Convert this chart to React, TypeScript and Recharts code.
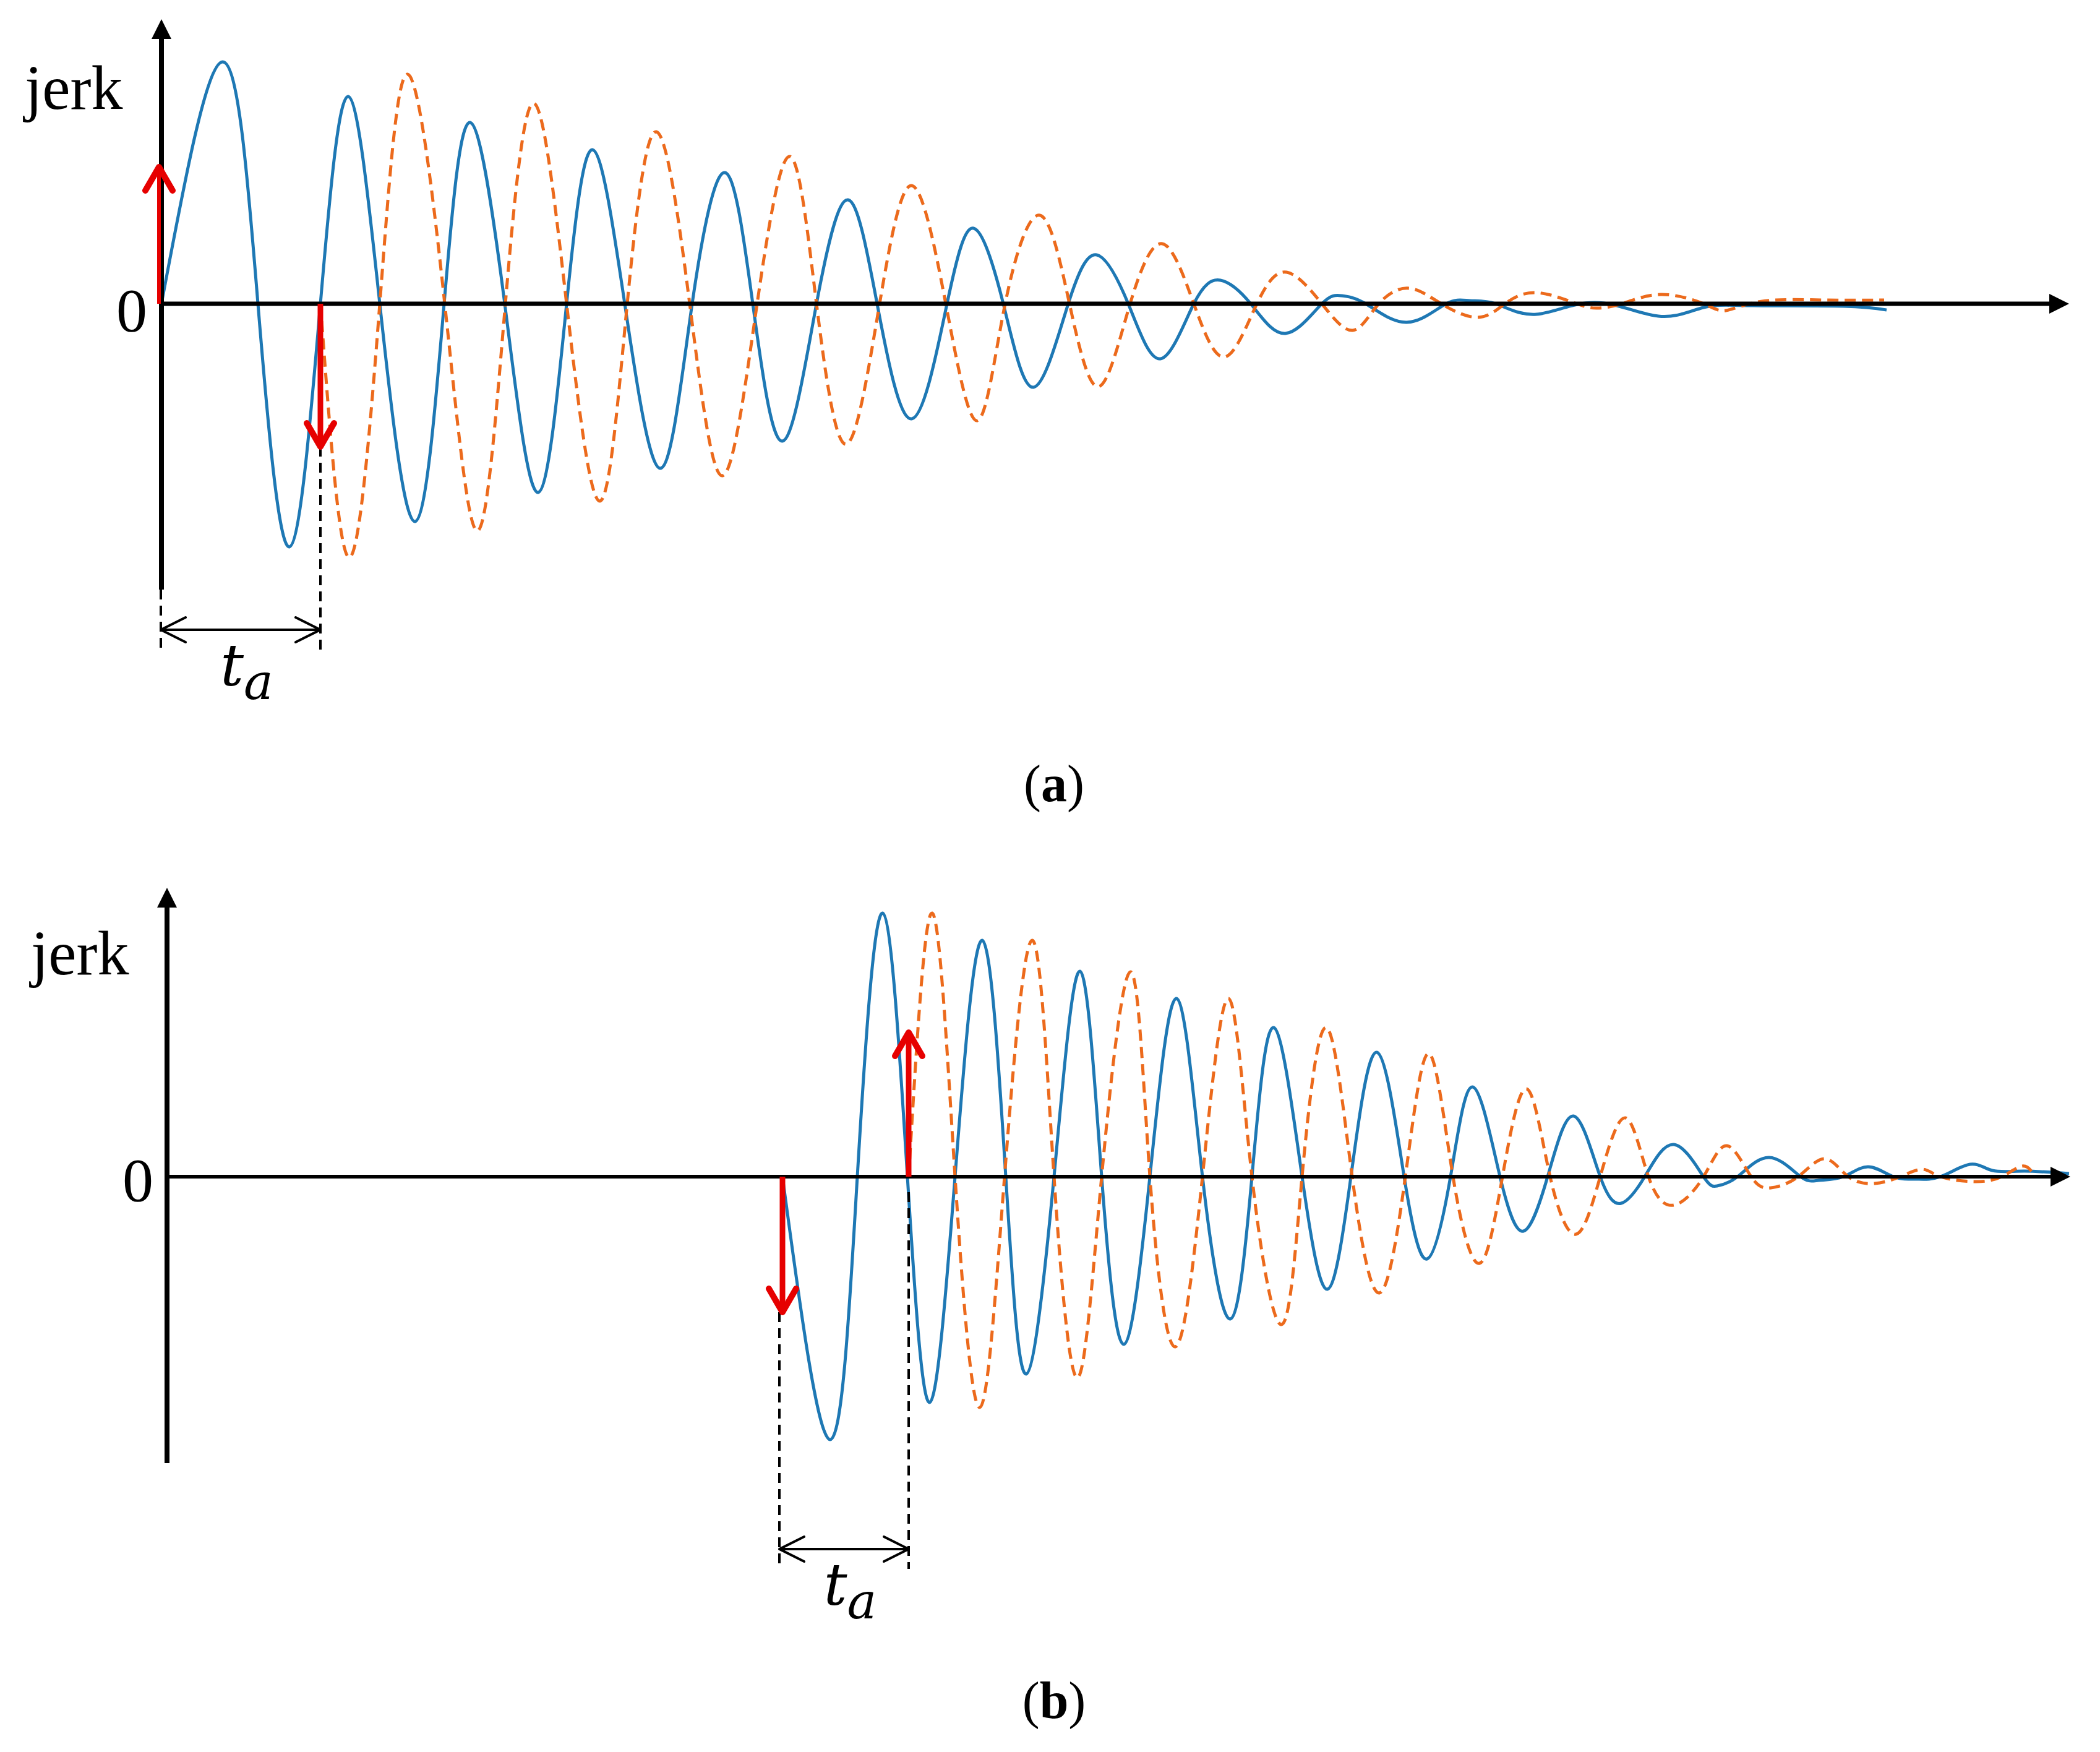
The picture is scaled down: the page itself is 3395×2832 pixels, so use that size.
import React from 'react';
import { LineChart, Line, XAxis, YAxis, ReferenceLine } from 'recharts';

// time is counted from the jerk axis, jerk is in the same arbitrary units (0 = time axis)

// (a) impulse at t = 0 (blue) and a second one, inverted, after t_a (orange)
const aBlueT = [0, 99, 156, 207, 257, 302, 353, 410, 457, 499, 555, 609, 655, 697, 749, 807, 858, 911, 956, 1004, 1059, 1110, 1157, 1213, 1270, 1313, 1361, 1410, 1466, 1512, 1563, 1615, 1669, 1712, 1761, 1817, 1876, 1908, 1947, 2013, 2077, 2115, 2157, 2223, 2318, 2420, 2493, 2573, 2719, 2789];
const aBlueV = [0, 391, 0, -393, 0, 335, 0, -352, 0, 293, 0, -305, 0, 249, 0, -266, 0, 212, 0, -222, 0, 168, 0, -186, 0, 122, 0, -135, 0, 79, 0, -89, 0, 38, 0, -48, 0, 13, 0, -30, 0, 5, 0, -17, 2, -20, -6, -3, -4, -10];
const aOrangeT = [257, 304, 353, 398, 458, 511, 556, 602, 655, 709, 753, 800, 854, 907, 963, 1016, 1059, 1107, 1161, 1213, 1268, 1319, 1364, 1420, 1468, 1515, 1566, 1618, 1669, 1719, 1771, 1819, 1876, 1926, 1968, 2017, 2069, 2128, 2172, 2223, 2288, 2321, 2361, 2424, 2493, 2529, 2588, 2689, 2785];
const aOrangeV = [0, -410, 0, 371, 0, -367, 0, 324, 0, -319, 0, 278, 0, -278, 0, 238, 0, -227, 0, 191, 0, -189, 0, 143, 0, -134, 0, 97, 0, -86, 0, 51, 0, -43, 0, 25, 0, -22, 0, 18, 0, -7, 0, 15, 0, -11, 4, 6, 6];

// (b) same pair, starting later and with the opposite sign
const bBlueT = [995, 1072, 1116, 1157, 1197, 1233, 1274, 1318, 1356, 1389, 1434, 1476, 1511, 1547, 1589, 1632, 1674, 1719, 1754, 1789, 1835, 1876, 1914, 1956, 2000, 2037, 2075, 2111, 2155, 2193, 2232, 2274, 2317, 2351, 2389, 2436, 2484, 2506, 2539, 2590, 2641, 2670, 2710, 2750, 2791, 2827, 2867, 2915, 2951, 3002, 3075];
const bBlueV = [0, -425, 0, 426, 0, -365, 0, 382, 0, -319, 0, 332, 0, -271, 0, 288, 0, -230, 0, 241, 0, -182, 0, 201, 0, -133, 0, 145, 0, -88, 0, 98, 0, -43, 0, 52, 0, -15, 0, 31, 0, -6, 0, 16, 0, -4, 0, 20, 10, 9, 5];
const bOrangeT = [1199, 1237, 1274, 1314, 1354, 1399, 1434, 1472, 1511, 1558, 1589, 1630, 1674, 1716, 1754, 1802, 1835, 1874, 1916, 1960, 2002, 2040, 2079, 2122, 2159, 2198, 2236, 2278, 2317, 2358, 2395, 2436, 2484, 2522, 2561, 2593, 2637, 2680, 2718, 2761, 2802, 2838, 2867, 2922, 2966, 2999, 3017];
const bOrangeV = [0, 426, 0, -373, 0, 382, 0, -325, 0, 331, 0, -275, 0, 288, 0, -239, 0, 241, 0, -188, 0, 199, 0, -140, 0, 142, 0, -93, 0, 95, 0, -46, 0, 50, 0, -18, 0, 29, 0, -11, 0, 12, 0, -8, 0, 17, 5];

// red impulse arrows: start time and height
const aKickT = [-4, 257];
const aKickV = [221, -231];
const bKickT = [995, 1199];
const bKickV = [-219, 233];

// dashed guides below the axis: time, from, to
const aGuideT = [-1, 257];
const aGuideFrom = [-462, -231];
const aGuideTo = [-561, -561];
const bGuideT = [990, 1199];
const bGuideFrom = [-219, -25];
const bGuideTo = [-634, -634];

// t_a span: start, end, height
const aSpan = [-1, 257, -527];
const bSpan = [990, 1199, -602];

const BLUE = '#1e78b4';
const ORANGE = '#ec6a1c';
const RED = '#e60000';
const SERIF = '"Liberation Serif", "Times New Roman", serif';
const MATH = '"DejaVu Serif", serif';

type Pt = { t: number; v: number };
const zip = (t: number[], v: number[]): Pt[] => t.map((x, i) => ({ t: x, v: v[i] }));

type Head = 'solid' | 'open' | 'none';
interface ArrowOpts {
  color: string;
  width: number;
  dash?: string;
  start?: Head;
  end?: Head;
  len?: number;
  half?: number;
  headWidth?: number;
}

function arrow(o: ArrowOpts) {
  return (p: any) => {
    const { x1, y1, x2, y2 } = p;
    const d = Math.hypot(x2 - x1, y2 - y1) || 1;
    const ux = (x2 - x1) / d;
    const uy = (y2 - y1) / d;
    const L = o.len ?? 30;
    const H = o.half ?? 15;
    const head = (tx: number, ty: number, dx: number, dy: number, kind: Head | undefined, key: string) => {
      if (!kind || kind === 'none') return null;
      const bx = tx - dx * L;
      const by = ty - dy * L;
      const pts = `${bx - dy * H},${by + dx * H} ${tx},${ty} ${bx + dy * H},${by - dx * H}`;
      return kind === 'solid' ? (
        <polygon key={key} points={pts} fill={o.color} />
      ) : (
        <polyline key={key} points={pts} fill="none" stroke={o.color} strokeWidth={o.headWidth ?? o.width} strokeLinecap="round" strokeLinejoin="round" />
      );
    };
    const sx = o.start === 'solid' ? x1 + ux * L * 0.8 : x1;
    const sy = o.start === 'solid' ? y1 + uy * L * 0.8 : y1;
    const ex = o.end === 'solid' ? x2 - ux * L * 0.8 : x2;
    const ey = o.end === 'solid' ? y2 - uy * L * 0.8 : y2;
    return (
      <g>
        <line x1={sx} y1={sy} x2={ex} y2={ey} stroke={o.color} strokeWidth={o.width} strokeDasharray={o.dash} />
        {head(x2, y2, ux, uy, o.end, 'e')}
        {head(x1, y1, -ux, -uy, o.start, 's')}
      </g>
    );
  };
}

const spanArrow = arrow({ color: '#000', width: 4, start: 'open', end: 'open', len: 40, half: 20, headWidth: 4 });
const spanShape = (p: any) => (
  <g>
    {spanArrow(p)}
    <text x={(p.x1 + p.x2) / 2 + 10} y={p.y1 + 90} textAnchor="middle" fontFamily={MATH} fontStyle="italic" fontSize={94} fill="#000">
      t<tspan fontSize={80} dy={22}>a</tspan>
    </text>
  </g>
);

interface PanelProps {
  top: number;
  height: number;
  marginTop: number;
  marginBottom: number;
  marginRight: number;
  axisWidth: number;
  tMax: number;
  vMin: number;
  vMax: number;
  axisLow: number;
  axisHigh: number;
  zeroWidth: number;
  zeroMargin: number;
  zeroDy: number;
  jerkDx: number;
  jerkDy: number;
  blue: Pt[];
  orange: Pt[];
  kickT: number[];
  kickV: number[];
  kickWidth: number[];
  guideT: number[];
  guideFrom: number[];
  guideTo: number[];
  span: number[];
}

function Panel(p: PanelProps) {
  const jerk = (lp: any) => {
    const vb = lp.viewBox || { x: 0, y: p.marginTop };
    return (
      <text x={vb.x + p.jerkDx} y={vb.y + p.jerkDy} fontFamily={SERIF} fontSize={102} fill="#000">
        jerk
      </text>
    );
  };
  return (
    <div style={{ position: 'absolute', left: 0, top: p.top }}>
      <LineChart width={3395} height={p.height} margin={{ top: p.marginTop, right: p.marginRight, bottom: p.marginBottom, left: 0 }}>
        <XAxis type="number" dataKey="t" domain={[0, p.tMax]} hide />
        <YAxis
          type="number"
          domain={[p.vMin, p.vMax]}
          ticks={[0]}
          width={p.axisWidth}
          axisLine={false}
          tickLine={false}
          tickSize={0}
          tickMargin={p.zeroMargin}
          tick={{ fontSize: 100, fill: '#000', fontFamily: SERIF, dy: p.zeroDy }}
          label={{ value: 'jerk', content: jerk }}
        />
        <Line data={p.blue} dataKey="v" type="natural" stroke={BLUE} strokeWidth={5} dot={false} activeDot={false} isAnimationActive={false} />
        <Line data={p.orange} dataKey="v" type="natural" stroke={ORANGE} strokeWidth={5} strokeDasharray="18 10" dot={false} activeDot={false} isAnimationActive={false} />
        <ReferenceLine
          segment={[{ x: 0, y: 0 }, { x: p.tMax, y: 0 }]}
          ifOverflow="visible"
          shape={arrow({ color: '#000', width: p.zeroWidth, end: 'solid', len: 32, half: 16 })}
        />
        <ReferenceLine
          segment={[{ x: 0, y: p.axisLow }, { x: 0, y: p.axisHigh }]}
          ifOverflow="visible"
          shape={arrow({ color: '#000', width: 8, end: 'solid', len: 32, half: 16 })}
        />
        {p.guideT.map((t, i) => (
          <ReferenceLine
            key={'g' + i}
            segment={[{ x: t, y: p.guideFrom[i] }, { x: t, y: p.guideTo[i] }]}
            ifOverflow="visible"
            shape={arrow({ color: '#000', width: 4, dash: '16 10' })}
          />
        ))}
        <ReferenceLine
          segment={[{ x: p.span[0], y: p.span[2] }, { x: p.span[1], y: p.span[2] }]}
          ifOverflow="visible"
          shape={spanShape}
        />
        {p.kickT.map((t, i) => (
          <ReferenceLine
            key={'k' + i}
            segment={[{ x: t, y: 0 }, { x: t, y: p.kickV[i] }]}
            ifOverflow="visible"
            shape={arrow({ color: RED, width: p.kickWidth[i], end: 'open', len: 38, half: 22, headWidth: 10 })}
          />
        ))}
      </LineChart>
    </div>
  );
}

const captionStyle = (top: number): React.CSSProperties => ({
  position: 'absolute',
  left: 1504,
  top,
  width: 400,
  textAlign: 'center',
  fontFamily: SERIF,
  fontSize: 84,
  lineHeight: 1,
  color: '#000',
});

export default function App() {
  return (
    <div style={{ position: 'absolute', left: 0, top: 0, width: 3395, height: 2832, background: '#fff', overflow: 'hidden' }}>
      <Panel
        top={0}
        height={1180}
        marginTop={31}
        marginBottom={49}
        marginRight={50}
        axisWidth={261}
        tMax={3084}
        vMin={-640}
        vMax={460}
        axisLow={-462}
        axisHigh={460}
        zeroWidth={7}
        zeroMargin={23}
        zeroDy={8}
        jerkDx={40}
        jerkDy={145}
        blue={zip(aBlueT, aBlueV)}
        orange={zip(aOrangeT, aOrangeV)}
        kickT={aKickT}
        kickV={aKickV}
        kickWidth={[6, 9]}
        guideT={aGuideT}
        guideFrom={aGuideFrom}
        guideTo={aGuideTo}
        span={aSpan}
      />
      <div style={captionStyle(1225)}>
        (<b>a</b>)
      </div>
      <Panel
        top={1340}
        height={1330}
        marginTop={95}
        marginBottom={48}
        marginRight={48}
        axisWidth={270}
        tMax={3077}
        vMin={-720}
        vMax={467}
        axisLow={-463}
        axisHigh={467}
        zeroWidth={6}
        zeroMargin={22}
        zeroDy={3}
        jerkDx={50}
        jerkDy={140}
        blue={zip(bBlueT, bBlueV)}
        orange={zip(bOrangeT, bOrangeV)}
        kickT={bKickT}
        kickV={bKickV}
        kickWidth={[9, 9]}
        guideT={bGuideT}
        guideFrom={bGuideFrom}
        guideTo={bGuideTo}
        span={bSpan}
      />
      <div style={captionStyle(2707)}>
        (<b>b</b>)
      </div>
    </div>
  );
}
